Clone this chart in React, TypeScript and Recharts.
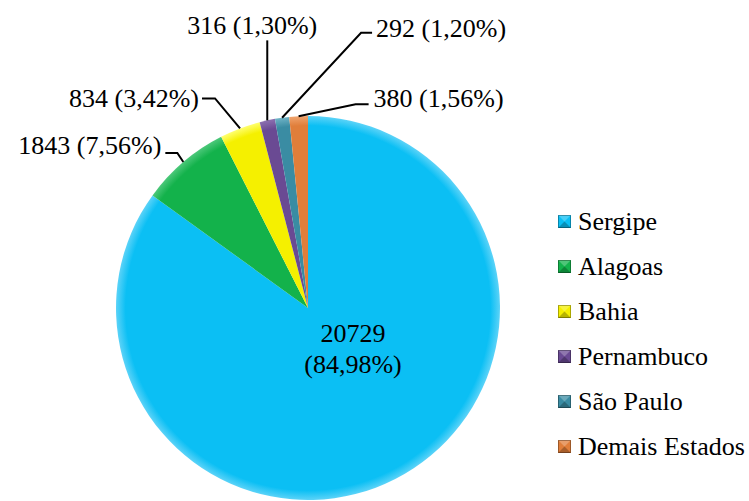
import { Pie, PieChart, Cell } from "recharts"

const states = ["Sergipe", "Alagoas", "Bahia", "Pernambuco", "São Paulo", "Demais Estados"]
const counts = [20729, 1843, 834, 316, 292, 380]

const COLORS = ["#0BBFF4", "#13B24B", "#F5F000", "#6A4A93", "#3A8CA3", "#E07E3A"]
const RIMS = ["#5CD3F8", "#4CC87A", "#FFFF70", "#8C70B0", "#6FB3C6", "#F0A46E"]

const data = states.map((name, i) => ({ name, value: counts[i] }))

// leader line / text offsets relative to the slice's outer mid point
const labelLayout = [
  null,
  { elbow: [-6, -9], end: [-18, -9], text: [-22, -17], anchor: "end" },
  { elbow: [-25, -30], end: [-38, -30], text: [-41, -31], anchor: "end" },
  { elbow: [0, -80], end: [0, -80], text: [-15, -95], anchor: "middle" },
  { elbow: [79, -85], end: [90, -85], text: [94, -90], anchor: "start" },
  { elbow: [57, -12], end: [70, -12], text: [75, -18], anchor: "start" },
]

const RAD = Math.PI / 180

const fmt = (p: number) => `${(p * 100).toFixed(2).replace(".", ",")}%`

const renderLabel = (props: any) => {
  const { cx, cy, midAngle, outerRadius, index, value, percent } = props
  if (index === 0) {
    return (
      <text x={cx + 45} y={cy + 25} fill="#000" fontSize={26} fontFamily="Times New Roman" textAnchor="middle">
        <tspan x={cx + 45} dy="0.35em">{value}</tspan>
        <tspan x={cx + 45} dy="1.2em">({fmt(percent)})</tspan>
      </text>
    )
  }
  const l = labelLayout[index]!
  const ax = cx + outerRadius * Math.cos(-midAngle * RAD)
  const ay = cy + outerRadius * Math.sin(-midAngle * RAD)
  const pts = `${ax},${ay} ${ax + l.elbow[0]},${ay + l.elbow[1]} ${ax + l.end[0]},${ay + l.end[1]}`
  return (
    <g>
      <polyline points={pts} fill="none" stroke="#000" strokeWidth={2} />
      <text
        x={ax + l.text[0]}
        y={ay + l.text[1]}
        dy="0.35em"
        fill="#000"
        fontSize={26}
        fontFamily="Times New Roman"
        textAnchor={l.anchor as any}
      >
        {value} ({fmt(percent)})
      </text>
    </g>
  )
}

export default function App() {
  return (
    <div style={{ position: "absolute", left: 0, top: 0, width: 749, height: 501, background: "#fff" }}>
      <PieChart width={749} height={501} margin={{ top: 0, right: 0, bottom: 0, left: 0 }}>
        <defs>
          {COLORS.map((c, i) => (
            <radialGradient key={i} id={`g${i}`} gradientUnits="userSpaceOnUse" cx={308} cy={308} r={192}>
              <stop offset="0%" stopColor={c} />
              <stop offset="95%" stopColor={c} />
              <stop offset="100%" stopColor={RIMS[i]} />
            </radialGradient>
          ))}
        </defs>
        <Pie
          data={data}
          dataKey="value"
          nameKey="name"
          cx={308}
          cy={308}
          outerRadius={192}
          startAngle={90}
          endAngle={-270}
          stroke="none"
          labelLine={false}
          label={renderLabel}
          isAnimationActive={false}
        >
          {data.map((entry, index) => (
            <Cell key={`cell-${index}`} fill={`url(#g${index})`} />
          ))}
        </Pie>
      </PieChart>
      <div style={{ position: "absolute", left: 558, top: 199, fontFamily: "Times New Roman", fontSize: 26, color: "#000" }}>
        {states.map((s, i) => (
          <div key={s} style={{ height: 45, display: "flex", alignItems: "center" }}>
            <svg width={13} height={13} style={{ marginRight: 7 }}>
              <rect x={0} y={0} width={13} height={13} fill={COLORS[i]} />
              <polygon points="0,0 13,0 6.5,6.5" fill="#fff" opacity={0.25} />
              <polygon points="0,13 13,13 6.5,6.5" fill="#000" opacity={0.25} />
              <rect x={0.5} y={0.5} width={12} height={12} fill="none" stroke="#000" strokeOpacity={0.3} />
            </svg>
            <span>{s}</span>
          </div>
        ))}
      </div>
    </div>
  )
}
